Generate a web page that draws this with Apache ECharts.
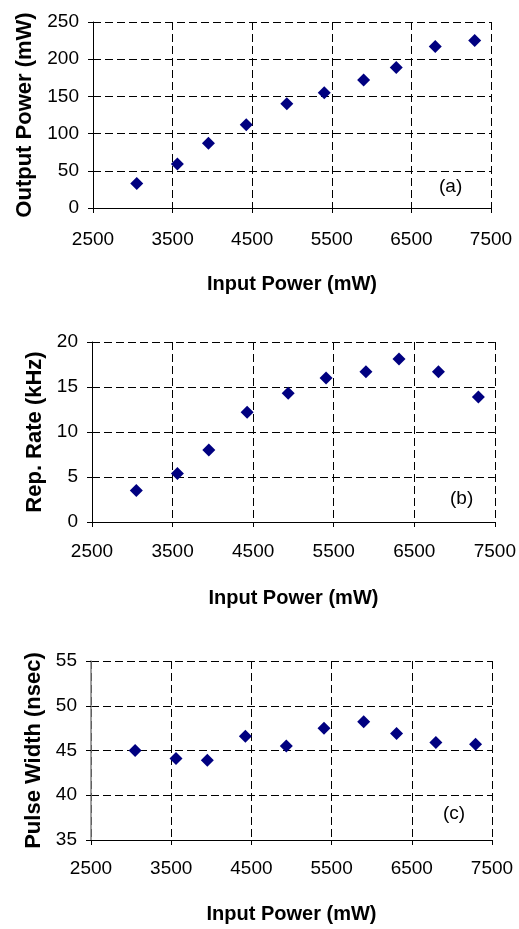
<!DOCTYPE html>
<html>
<head>
<meta charset="utf-8">
<script src="https://cdn.jsdelivr.net/npm/echarts@6/dist/echarts.min.js"></script>
<style>
html,body{margin:0;padding:0;background:#fff;}
#chart{width:519px;height:929px;}
</style>
</head>
<body>
<div id="chart"></div>
<script>
// ---- data ----
var inputPower  = [3050, 3560, 3950, 4425, 4935, 5405, 5900, 6310, 6800, 7295];
var outputPower = [33, 59, 87, 112, 140, 155, 172, 189, 217, 225];
var repRate     = [3.5, 5.4, 8.0, 12.2, 14.3, 16.0, 16.7, 18.1, 16.7, 13.9];
var pulseWidth  = [45.0, 44.1, 43.9, 46.6, 45.5, 47.5, 48.2, 46.9, 45.9, 45.7];
var xTicks      = [2500, 3500, 4500, 5500, 6500, 7500];
var panelLabels = ['(a)', '(b)', '(c)'];
var xTitle      = 'Input Power (mW)';
var yTitles     = ['Output Power (mW)', 'Rep. Rate (kHz)', 'Pulse Width (nsec)'];

var FONT = "'Liberation Sans', Arial, sans-serif";

function pairs(ys) {
  return inputPower.map(function (x, i) { return [x, ys[i]]; });
}
function plain(v) { return String(v); }

var grids = [
  {left: 93, top: 22, width: 398, height: 186},
  {left: 92, top: 342, width: 408, height: 180},
  {left: 91, top: 661, width: 401, height: 179}
];
var yRanges = [[0, 250, 50], [0, 20, 5], [35, 55, 5]];
var xLabelMargins = [22, 20, 19];
var xNameGaps = [66, 66, 64];
var yNameGaps = [55, 46, 46];
var yAxisColors = ['#000', '#000', '#808080'];

var dash = [8, 4];

var option = {
  animation: false,
  backgroundColor: '#fff',
  grid: grids,
  xAxis: grids.map(function (g, i) {
    return {
      type: 'value', gridIndex: i, min: 2500, max: 7500, interval: 1000,
      name: xTitle, nameLocation: 'middle', nameGap: xNameGaps[i],
      nameTextStyle: {fontFamily: FONT, fontWeight: 'bold', fontSize: 20, color: '#000'},
      axisLine: {show: true, onZero: false, lineStyle: {color: '#000', width: 1}},
      axisTick: {show: true, length: 5, inside: false, customValues: xTicks, lineStyle: {color: '#000'}},
      axisLabel: {fontFamily: FONT, fontSize: 19, color: '#000', margin: xLabelMargins[i], customValues: xTicks, formatter: plain, showMinLabel: true, showMaxLabel: true},
      splitLine: {show: true, lineStyle: {color: '#000', type: dash, width: 1}}
    };
  }),
  yAxis: grids.map(function (g, i) {
    return {
      type: 'value', gridIndex: i, min: yRanges[i][0], max: yRanges[i][1], interval: yRanges[i][2],
      name: yTitles[i], nameLocation: 'middle', nameGap: yNameGaps[i],
      nameTextStyle: {fontFamily: FONT, fontWeight: 'bold', fontSize: 22, color: '#000'},
      axisLine: {show: true, onZero: false, lineStyle: {color: yAxisColors[i], width: i === 2 ? 1.5 : 1}},
      axisTick: {show: true, length: 5, inside: false, lineStyle: {color: '#000'}},
      axisLabel: {fontFamily: FONT, fontSize: 19, color: '#000', margin: 14, formatter: plain},
      splitLine: {show: true, lineStyle: {color: '#000', type: dash, width: 1}}
    };
  }),
  graphic: [
    {type: 'text', x: 439, y: 177, style: {text: panelLabels[0], font: '19px ' + FONT, fill: '#000'}},
    {type: 'text', x: 450, y: 489, style: {text: panelLabels[1], font: '19px ' + FONT, fill: '#000'}},
    {type: 'text', x: 443, y: 804, style: {text: panelLabels[2], font: '19px ' + FONT, fill: '#000'}}
  ],
  series: [outputPower, repRate, pulseWidth].map(function (ys, i) {
    return {
      type: 'scatter', xAxisIndex: i, yAxisIndex: i,
      symbol: 'diamond', symbolSize: 13,
      itemStyle: {color: '#000080', opacity: 1},
      emphasis: {disabled: true},
      data: pairs(ys)
    };
  })
};

var chart = echarts.init(document.getElementById('chart'), null, {renderer: 'canvas'});
chart.setOption(option);
</script>
</body>
</html>
